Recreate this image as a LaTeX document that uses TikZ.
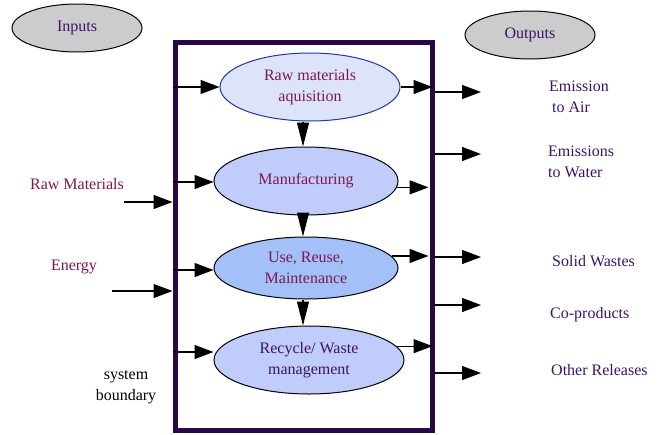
\documentclass[tikz,border=0pt]{standalone}
\usepackage{fontspec}
\setmainfont{Liberation Serif}
\usetikzlibrary{shapes.geometric,arrows.meta}
\definecolor{boxpurple}{HTML}{2A0845}
\definecolor{txtpurple}{HTML}{3C1466}
\definecolor{txtmaroon}{HTML}{7B1A4F}
\definecolor{grayfill}{HTML}{CCCCCC}
\definecolor{fillA}{HTML}{DDE4FA}
\definecolor{fillB}{HTML}{C0CCFA}
\definecolor{fillC}{HTML}{A3C0F8}
\definecolor{edgeA}{HTML}{1E3C9C}
\begin{document}
\begin{tikzpicture}[x=1pt,y=-1pt,
  every node/.style={font=\fontsize{16}{21}\selectfont},
  oval/.style={ellipse, draw=black, line width=1pt, inner sep=0pt},
  stage/.style={oval, align=center, text=txtmaroon},
  arr/.style={line width=1.2pt, -{Triangle[length=19pt,width=14pt]}},
  varr/.style={line width=1.2pt, -{Triangle[length=24pt,width=12pt]}},
  outlbl/.style={anchor=west, text=txtpurple, align=left, inner sep=0pt},
  inlbl/.style={text=txtmaroon}]
\useasboundingbox (0,0) rectangle (658,434);
% system boundary box
\node[draw=boxpurple, line width=5pt, minimum width=257pt, minimum height=388pt, inner sep=0pt] (box) at (303.5,236) {};
% header ovals
\node[oval, fill=grayfill, minimum width=130pt, minimum height=48pt, text=txtpurple] (inputs) at (77,28) {Inputs};
\node[oval, fill=grayfill, minimum width=130pt, minimum height=48pt, text=txtpurple] (outputs) at (530,35) {Outputs};
% stages
\node[stage, fill=fillA, draw=edgeA, minimum width=180pt, minimum height=68pt] (e1) at (310,87) {Raw materials\\aquisition};
\node[stage, fill=fillB, minimum width=184pt, minimum height=68pt] (e2) at (306,181) {Manufacturing};
\node[stage, fill=fillC, minimum width=184pt, minimum height=62pt] (e3) at (306,268) {Use, Reuse,\\Maintenance};
\node[stage, fill=fillB, minimum width=190pt, minimum height=68pt, text=txtpurple] (e4) at (309,360) {Recycle/ Waste\\management};
% vertical flow
\draw[varr] (e1.south -| 303,0) -- (e2.north -| 303,0);
\draw[varr] (e2.south -| 303,0) -- (e3.north -| 303,0);
\draw[varr] (e3.south -| 303,0) -- (e4.north -| 303,0);
% inner left arrows
\draw[arr] (e1.west -| box.west) -- (e1.west);
\draw[arr] (box.west |- 0,182) -- (e2.west |- 0,182);
\draw[arr] (box.west |- 0,270) -- (e3.west |- 0,270);
\draw[arr] (box.west |- 0,352) -- (e4.west |- 0,352);
% inner right arrows
\draw[arr, shorten >=2pt] (e1.east) -- (e1.east -| box.east);
\draw[arr, shorten >=6pt] (e2.-4) -- (e2.-4 -| box.east);
\draw[arr, shorten >=6pt] (e3.8) -- (e3.8 -| box.east);
\draw[arr, shorten >=2pt] (e4.9) -- (e4.9 -| box.east);
% outer input arrows
\coordinate (rmin) at (124,202);
\coordinate (enin) at (112,291);
\draw[arr] (rmin) -- (rmin -| box.west);
\draw[arr] (enin) -- (enin -| box.west);
% outer output arrows
\coordinate (o1) at (481,92);
\coordinate (o2) at (481,154);
\coordinate (o3) at (481,257);
\coordinate (o4) at (481,305);
\coordinate (o5) at (481,373);
\foreach \c in {o1,o2,o3,o4,o5} \draw[arr] (\c -| box.east) -- (\c);
% input labels
\node[inlbl] (lrm) at (77,184) {Raw Materials};
\node[inlbl] (len) at (74,267) {Energy};
\node[align=center] (lsb) at (126,387) {system\\boundary};
% output labels
\node[outlbl] (l1) at (549,97) {Emission\\\hspace{3pt}to Air};
\node[outlbl] (l2) at (548,162) {Emissions\\to Water};
\node[outlbl] (l3) at (552,261) {Solid Wastes};
\node[outlbl] (l4) at (550,315) {Co-products};
\node[outlbl] (l5) at (551,370) {Other Releases};
\end{tikzpicture}
\end{document}
